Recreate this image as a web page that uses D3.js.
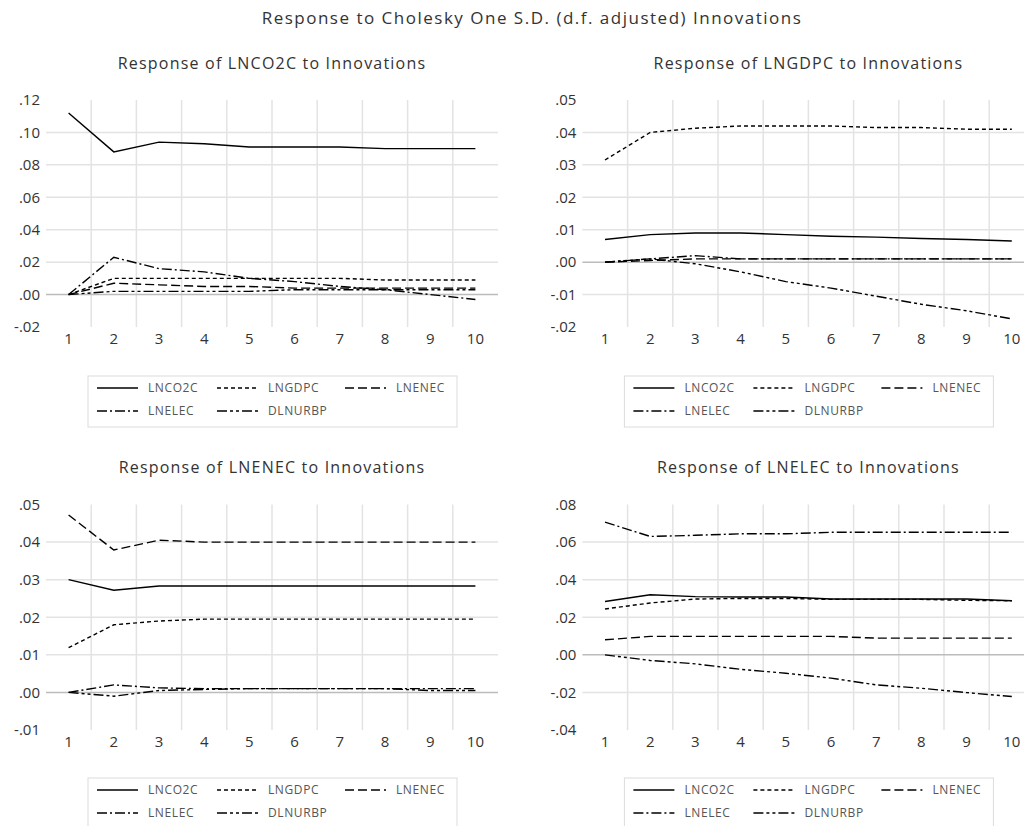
<!DOCTYPE html>
<html>
<head>
<meta charset="utf-8">
<script src="https://cdn.jsdelivr.net/npm/d3@7"></script>
<style>
  body { margin: 0; background: #fff; }
  svg { display: block; font-family: "Open Sans", sans-serif; }
</style>
</head>
<body>
<div id="chart"></div>
<script>
var periods = [1, 2, 3, 4, 5, 6, 7, 8, 9, 10];
var shocks = ["LNCO2C", "LNGDPC", "LNENEC", "LNELEC", "DLNURBP"];

// one row per shock, same order as `shocks`
var respLNCO2C = [
    [.112, .088, .094, .093, .091, .091, .091, .090, .090, .090],
    [0, .010, .010, .010, .010, .010, .010, .009, .009, .009],
    [0, .007, .006, .005, .005, .004, .004, .004, .004, .004],
    [0, .023, .016, .014, .010, .008, .005, .003, .000, -.003],
    [0, .002, .002, .002, .002, .003, .003, .003, .003, .003]
];
var respLNGDPC = [
    [.007, .0085, .009, .009, .0085, .008, .0077, .0073, .007, .0065],
    [.0315, .040, .0413, .042, .042, .042, .0415, .0415, .041, .041],
    [0, .0005, .001, .001, .001, .001, .001, .001, .001, .001],
    [0, .001, .002, .001, .001, .001, .001, .001, .001, .001],
    [0, .001, -.0005, -.003, -.006, -.008, -.0105, -.013, -.015, -.0175]
];
var respLNENEC = [
    [.030, .0272, .0283, .0283, .0283, .0283, .0283, .0283, .0283, .0283],
    [.0119, .018, .019, .0195, .0195, .0195, .0195, .0195, .0195, .0195],
    [.0472, .0379, .0405, .040, .040, .040, .040, .040, .040, .040],
    [0, .002, .0012, .001, .001, .001, .001, .001, .001, .001],
    [0, -.001, .0005, .0008, .001, .001, .001, .001, .0005, .0005]
];
var respLNELEC = [
    [.0284, .032, .031, .0308, .0308, .0297, .0297, .0297, .0297, .0288],
    [.0244, .0276, .0297, .030, .030, .0295, .0295, .0295, .029, .0288],
    [.008, .0098, .0098, .0098, .0098, .0098, .0089, .0089, .0089, .0089],
    [.0706, .063, .0636, .0644, .0644, .0652, .0652, .0652, .0652, .0652],
    [0, -.003, -.0048, -.0077, -.0098, -.0124, -.016, -.0178, -.0201, -.0222]
];

var ticksLNCO2C = [-.02, .00, .02, .04, .06, .08, .10, .12];
var ticksLNGDPC = [-.02, -.01, .00, .01, .02, .03, .04, .05];
var ticksLNENEC = [-.01, .00, .01, .02, .03, .04, .05];
var ticksLNELEC = [-.04, -.02, .00, .02, .04, .06, .08];

var dashes = {
    LNCO2C: null,
    LNGDPC: "4,3",
    LNENEC: "9,4",
    LNELEC: "10,3,2,3",
    DLNURBP: "10,3,3,3,3,3"
};

var svg = d3.select("#chart").append("svg")
    .attr("width", 1024)
    .attr("height", 826);

svg.append("text")
    .attr("x", 532).attr("y", 18).attr("dy", "0.35em")
    .attr("text-anchor", "middle")
    .attr("font-size", 17)
    .attr("letter-spacing", 1.5)
    .attr("fill", "#333")
    .text("Response to Cholesky One S.D. (d.f. adjusted) Innovations");

var panels = [
    { name: "LNCO2C", data: respLNCO2C, ticks: ticksLNCO2C, x0: 46, top: 100, bottom: 327, legendTop: 376 },
    { name: "LNGDPC", data: respLNGDPC, ticks: ticksLNGDPC, x0: 582.4, top: 100, bottom: 327, legendTop: 376 },
    { name: "LNENEC", data: respLNENEC, ticks: ticksLNENEC, x0: 46, top: 504.5, bottom: 730, legendTop: 778 },
    { name: "LNELEC", data: respLNELEC, ticks: ticksLNELEC, x0: 582.4, top: 504.5, bottom: 730, legendTop: 778 }
];

var fmt = d => d3.format(".2f")(d).replace("0.", ".").replace("\u2212", "-");

var drawPanel = p => {
    var g = svg.append("g");
    var x = d3.scaleBand().domain(periods).range([p.x0, p.x0 + 452]);
    var y = d3.scaleLinear().domain(d3.extent(p.ticks)).range([p.bottom, p.top]);
    var mid = d => x(d) + x.bandwidth() / 2;

    // title
    g.append("text")
        .attr("x", p.x0 + 226).attr("y", p.top - 37).attr("dy", "0.35em")
        .attr("text-anchor", "middle")
        .attr("font-size", 16)
        .attr("letter-spacing", 1.2)
        .attr("fill", "#333")
        .text("Response of " + p.name + " to Innovations");

    // grid
    g.selectAll(".vgrid").data(periods.slice(1)).join("line")
        .attr("x1", d => x(d)).attr("x2", d => x(d))
        .attr("y1", p.top).attr("y2", p.bottom)
        .attr("stroke", "#e3e3e3").attr("stroke-width", 1.5);
    g.selectAll(".hgrid").data(p.ticks.slice(1, -1)).join("line")
        .attr("x1", p.x0).attr("x2", p.x0 + 452)
        .attr("y1", d => y(d)).attr("y2", d => y(d))
        .attr("stroke", d => d === 0 ? "#bcbcbc" : "#e3e3e3")
        .attr("stroke-width", 1.5);

    // axes
    var ya = g.append("g")
        .attr("transform", "translate(" + p.x0 + ",0)")
        .call(d3.axisLeft(y).tickValues(p.ticks).tickFormat(fmt).tickSize(0).tickPadding(6));
    var xa = g.append("g")
        .attr("transform", "translate(0," + p.bottom + ")")
        .call(d3.axisBottom(x).tickSize(0).tickPadding(6));
    [ya, xa].forEach(a => {
        a.select(".domain").remove();
        a.selectAll("text").attr("font-size", 15).attr("fill", "#333")
            .attr("font-family", "Open Sans, sans-serif");
    });

    // response lines
    var line = d3.line().x((d, i) => mid(periods[i])).y(d => y(d));
    g.selectAll(".resp").data(p.data.map((v, i) => ({ shock: shocks[i], values: v })).reverse())
        .join("path")
        .attr("d", d => line(d.values))
        .attr("fill", "none")
        .attr("stroke", "#000")
        .attr("stroke-width", 1.4)
        .attr("stroke-dasharray", d => dashes[d.shock]);

    // legend
    var lx = p.x0 + 42;
    var lg = g.append("g");
    lg.append("rect")
        .attr("x", lx).attr("y", p.legendTop)
        .attr("width", 369).attr("height", 51)
        .attr("fill", "none").attr("stroke", "#dcdcdc");
    var cols = [9, 129, 257];
    var items = lg.selectAll(".item").data(shocks).join("g")
        .attr("transform", (d, i) => "translate(" + (lx + cols[i % 3]) + "," + (p.legendTop + 12 + Math.floor(i / 3) * 23) + ")");
    items.append("line")
        .attr("x1", 0).attr("x2", 41)
        .attr("stroke", "#000").attr("stroke-width", 1.4)
        .attr("stroke-dasharray", d => dashes[d]);
    items.append("text")
        .attr("x", 51).attr("dy", "0.35em")
        .attr("font-size", 12)
        .attr("letter-spacing", 0.6)
        .attr("fill", "#555")
        .text(d => d);
};

panels.forEach(drawPanel);
</script>
</body>
</html>
